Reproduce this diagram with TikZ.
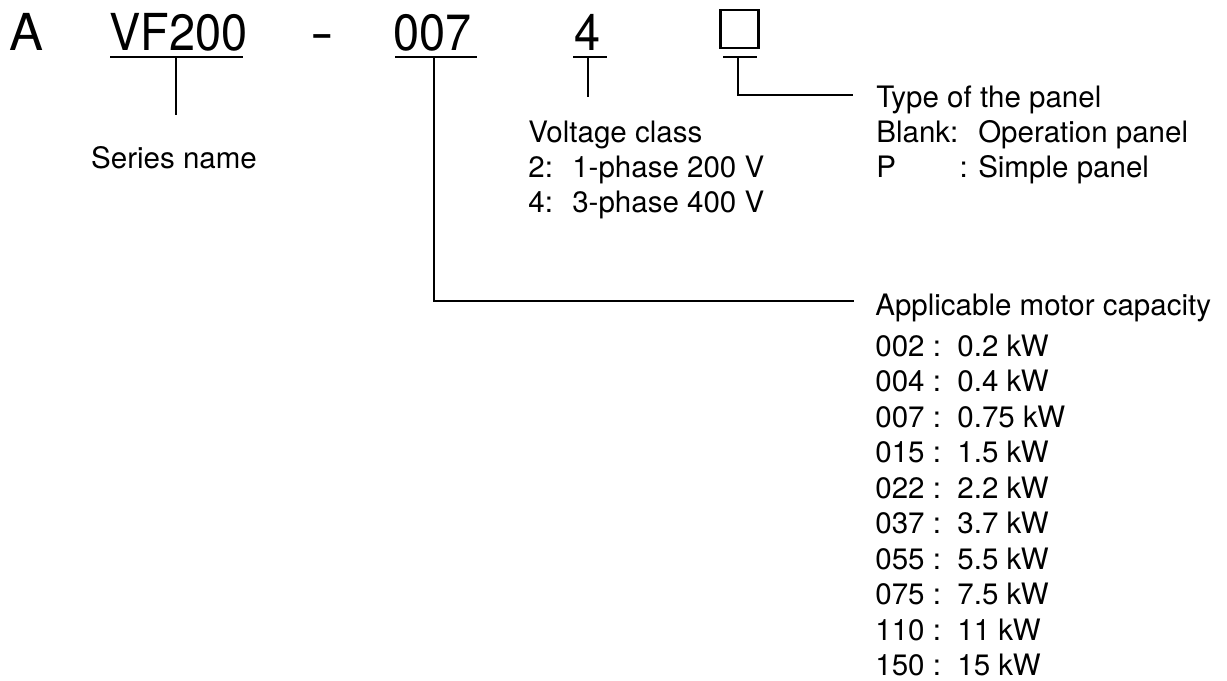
\documentclass[tikz,border=0pt]{standalone}
\usepackage{fontspec}
\setmainfont{TeX Gyre Heros}
\usetikzlibrary{positioning}

\newcommand{\codetext}[1]{\scalebox{0.92}[1]{#1}}

\tikzset{
  code/.style={anchor=base west, inner sep=0pt, font=\fontsize{29}{34}\selectfont},
  desc/.style={anchor=base west, inner sep=0pt, font=\fontsize{16.8}{20.2}\selectfont},
  uline/.style={line width=1.7pt},
  leader/.style={line width=1.1pt},
}

\begin{document}
\begin{tikzpicture}[x=0.02cm,y=-0.02cm]
    \useasboundingbox (0,0) rectangle (1227,680);

    % type code
    \node[code] (pre) at (9,50) {A};
    \node[code] (ser) at (109,50) {\codetext{VF200}};
    \node[code] (dash) at (310,50) {\scalebox{1.4}[1]{-}};
    \node[code] (cap) at (393,50) {\codetext{007}};
    \node[code] (volt) at (574,50) {\codetext{4}};
    \node[draw, line width=1.2pt, minimum size=0.76cm, inner sep=0pt] (pan) at (739.5,29) {};

    % underlines
    \draw[uline] (110,57) -- (243,57);
    \draw[uline] (395,57) -- (477,57);
    \draw[uline] (573,57) -- (607,57);
    \draw[uline] (723,57) -- (757,57);

    \coordinate (serU) at (176,57);
    \coordinate (capU) at (434,57);
    \coordinate (voltU) at (588,57);
    \coordinate (panU) at (738,57);

    \coordinate (serE) at (176,115);
    \coordinate (voltE) at (588,97);
    \coordinate (panE) at (853,95);
    \coordinate (capE) at (854,301);

    % leaders
    \draw[leader] (serU) -- (serE);
    \draw[leader] (voltU) -- (voltE);
    \draw[leader] (panU) |- (panE);
    \draw[leader] (capU) |- (capE);

    % descriptions
    \node[desc, anchor=base] (sername) at (174,168) {Series name};

    \node[desc] (volthead) at (528,142) {Voltage class};
    \node[desc] (volt2) at (528,177) {2:\hspace{11pt}1-phase 200 V};
    \node[desc] (volt4) at (528,212) {4:\hspace{11pt}3-phase 400 V};

    \node[desc] (panhead) at (876,107) {Type of the panel};
    \node[desc] (panblank) at (876,142) {\makebox[52pt][l]{Blank:}\hspace{6pt}Operation panel};
    \node[desc] (panp) at (876,177) {\makebox[52pt][l]{P\hfill:}\hspace{6pt}Simple panel};

    \node[desc] (caphead) at (875,315) {Applicable motor capacity};
    \foreach \c/\p [count=\i] in {002/0.2, 004/0.4, 007/0.75, 015/1.5, 022/2.2,
                                  037/3.7, 055/5.5, 075/7.5, 110/11, 150/15}
        \node[desc] (cap\c) at (875,{356+35.5*(\i-1)}) {\c\ :\ \ \p\ kW};

\end{tikzpicture}
\end{document}
